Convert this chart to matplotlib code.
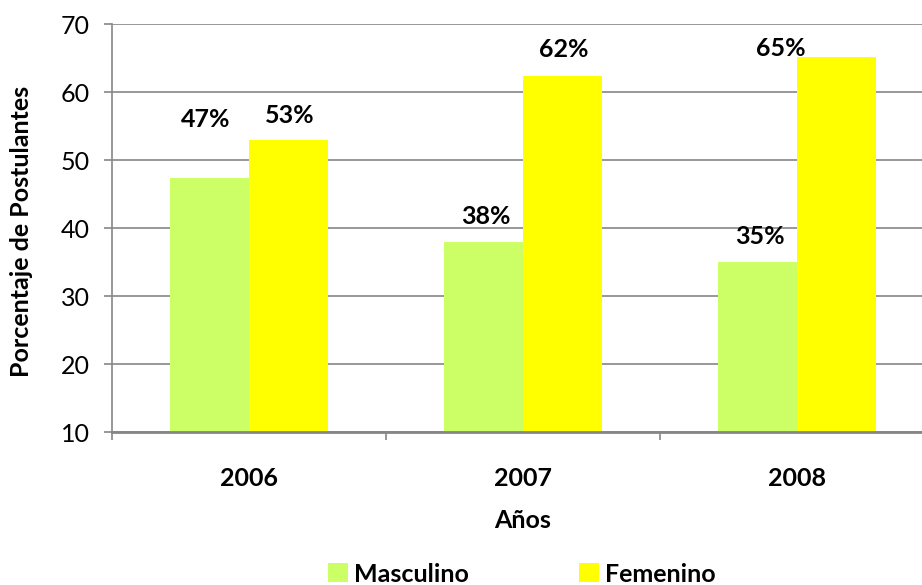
import numpy as np
import matplotlib.pyplot as plt

# data
years = ["2006", "2007", "2008"]
masculino = [47.4, 37.9, 35.0]
femenino = [52.9, 62.3, 65.1]
masc_labels = ["47%", "38%", "35%"]
fem_labels = ["53%", "62%", "65%"]

GREEN = "#CCFF66"
YELLOW = "#FFFF00"
GRID = "#868686"
FS = 18

plt.rcParams['font.family'] = ['Lato', 'DejaVu Sans']

fig = plt.figure(figsize=(9.22, 5.85), dpi=100)
# axes runs a bit past the right edge like the original
ax = fig.add_axes([112 / 922, 1 - 432 / 585, 822 / 922, 408 / 585])

x = np.arange(len(years))
w = 0.288
b1 = ax.bar(x - w / 2, np.array(masculino) - 10, w, bottom=10, color=GREEN, zorder=2, label="Masculino")
b2 = ax.bar(x + w / 2, np.array(femenino) - 10, w, bottom=10, color=YELLOW, zorder=2, label="Femenino")

# the labels were moved by hand in the original, keep their offsets (pixels)
masc_off = [(-4, 58), (2, 26), (2, 26)]
fem_off = [(1, 25), (1, 27), (-56, 9)]
for i in range(len(years)):
    ax.annotate(masc_labels[i], (x[i] - w / 2, masculino[i]), xytext=masc_off[i],
                textcoords="offset pixels", ha="center", va="center",
                fontsize=FS, fontweight="bold", zorder=3)
    ax.annotate(fem_labels[i], (x[i] + w / 2, femenino[i]), xytext=fem_off[i],
                textcoords="offset pixels", ha="center", va="center",
                fontsize=FS, fontweight="bold", zorder=3)

ax.set_xlim(-0.5, 2.5)
ax.set_ylim(10, 70)
ax.set_yticks(range(10, 71, 10))
ax.yaxis.grid(True, color=GRID, linewidth=1.2, zorder=1)
ax.tick_params(axis="y", length=6, width=1.2, color=GRID, pad=10, labelsize=FS)

ax.set_xticks(x)
ax.set_xticklabels(years, fontweight="bold", fontsize=FS)
ax.set_xticks([-0.5, 0.5, 1.5, 2.5], minor=True)
ax.tick_params(axis="x", which="major", length=0, pad=25)
ax.tick_params(axis="x", which="minor", length=6, width=1.2, color=GRID)

for side in ["top", "right"]:
    ax.spines[side].set_visible(False)
ax.spines["left"].set_color(GRID)
ax.spines["left"].set_linewidth(1.2)
ax.spines["bottom"].set_color(GRID)
ax.spines["bottom"].set_linewidth(2)

ax.set_xlabel("Años", fontsize=FS, fontweight="bold", labelpad=14)
fig.text(22 / 922, 1 - 231 / 585, "Porcentaje de Postulantes", rotation=90,
         ha="center", va="center", fontsize=FS, fontweight="bold")

leg = fig.legend(handles=[b1, b2], loc="center", bbox_to_anchor=(522 / 922, 1 - 574 / 585),
                 ncol=2, frameon=False, prop={"size": FS, "weight": "bold"},
                 handlelength=0.8, handleheight=0.8, handletextpad=0.25, columnspacing=4.4)

fig.savefig("out.png", dpi=100)
